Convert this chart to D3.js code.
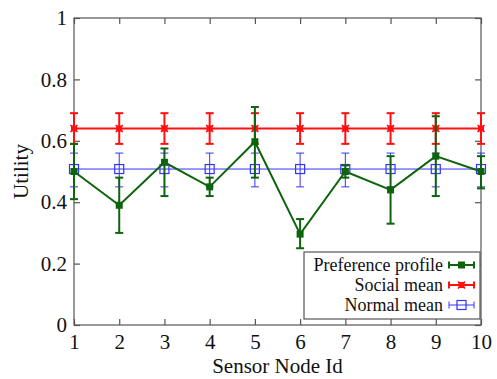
<!DOCTYPE html>
<html>
<head>
<meta charset="utf-8">
<script src="https://cdn.jsdelivr.net/npm/d3@7"></script>
<style>
  body { margin: 0; background: #fff; }
  svg text { font-family: "Liberation Serif", "DejaVu Serif", serif; fill: #111; }
</style>
</head>
<body>
<div id="chart"></div>
<script>
// node ids on the x axis
const nodes = [1, 2, 3, 4, 5, 6, 7, 8, 9, 10];

// preference profile: mean, lower and upper bound
const prefMean = [0.50, 0.39, 0.53, 0.45, 0.597, 0.296, 0.50, 0.44, 0.55, 0.50];
const prefLow  = [0.41, 0.30, 0.42, 0.42, 0.48, 0.25, 0.48, 0.33, 0.42, 0.445];
const prefHigh = [0.59, 0.48, 0.575, 0.48, 0.71, 0.345, 0.52, 0.55, 0.68, 0.55];

// social mean
const socialMean = [0.64, 0.64, 0.64, 0.64, 0.64, 0.64, 0.64, 0.64, 0.64, 0.64];
const socialLow  = [0.59, 0.59, 0.59, 0.59, 0.59, 0.59, 0.59, 0.59, 0.59, 0.59];
const socialHigh = [0.69, 0.69, 0.69, 0.69, 0.69, 0.69, 0.69, 0.69, 0.69, 0.69];

// normal mean
const normalMean = [0.508, 0.508, 0.508, 0.508, 0.508, 0.508, 0.508, 0.508, 0.508, 0.508];
const normalLow  = [0.45, 0.45, 0.45, 0.45, 0.45, 0.45, 0.45, 0.45, 0.45, 0.45];
const normalHigh = [0.56, 0.56, 0.56, 0.56, 0.56, 0.56, 0.56, 0.56, 0.56, 0.56];

const yTicks = [0, 0.2, 0.4, 0.6, 0.8, 1];
const yTickLabels = ['0', '0.2', '0.4', '0.6', '0.8', '1'];

const width = 497, height = 379;
const margin = { top: 18, right: 16, bottom: 54, left: 74 };

const svg = d3.select('#chart').append('svg')
  .attr('width', width)
  .attr('height', height);

const x = d3.scaleLinear().domain([1, 10]).range([margin.left, width - margin.right]);
const y = d3.scaleLinear().domain([0, 1]).range([height - margin.bottom, margin.top]);

const axisColor = '#555';
const tickLen = 6;

// frame
svg.append('rect')
  .attr('x', x(1)).attr('y', y(1))
  .attr('width', x(10) - x(1)).attr('height', y(0) - y(1))
  .attr('fill', 'none').attr('stroke', axisColor).attr('stroke-width', 1.2);

// inward ticks on all four sides
const axes = [
  d3.axisBottom(x).tickValues(nodes).tickSize(-tickLen).tickPadding(9),
  d3.axisTop(x).tickValues(nodes).tickSize(-tickLen).tickFormat(''),
  d3.axisLeft(y).tickValues(yTicks).tickSize(-tickLen).tickPadding(7)
    .tickFormat((d, i) => yTickLabels[i]),
  d3.axisRight(y).tickValues(yTicks).tickSize(-tickLen).tickFormat('')
];
const pos = [
  `translate(0,${y(0)})`, `translate(0,${y(1)})`,
  `translate(${x(1)},0)`, `translate(${x(10)},0)`
];
axes.forEach((a, i) => {
  const g = svg.append('g').attr('transform', pos[i]).call(a);
  g.select('.domain').remove();
  g.selectAll('line').attr('stroke', axisColor).attr('stroke-width', 1.2);
  g.selectAll('text').style('font-size', '21px').attr('fill', '#111');
});

// axis labels
svg.append('text')
  .attr('x', (x(1) + x(10)) / 2).attr('y', 373)
  .attr('text-anchor', 'middle')
  .style('font-size', '21px')
  .text('Sensor Node Id');

svg.append('text')
  .attr('transform', `translate(28,${(y(0) + y(1)) / 2}) rotate(-90)`)
  .attr('text-anchor', 'middle')
  .style('font-size', '21px')
  .text('Utility');

const series = [
  { name: 'Preference profile', color: '#0d640d', mean: prefMean, low: prefLow, high: prefHigh, lw: 2, marker: 'fill' },
  { name: 'Social mean', color: '#ff1010', mean: socialMean, low: socialLow, high: socialHigh, lw: 2, marker: 'cross' },
  { name: 'Normal mean', color: '#3333ff', mean: normalMean, low: normalLow, high: normalHigh, lw: 1, marker: 'open' }
];

const drawOrder = [series[1], series[2], series[0]];
const line = d3.line().x((d, i) => x(nodes[i])).y(d => y(d));

function drawMarker(g, cx, cy, s) {
  if (s.marker === 'fill') {
    g.append('rect').attr('x', cx - 3.5).attr('y', cy - 3.5).attr('width', 7).attr('height', 7)
      .attr('fill', s.color);
  } else if (s.marker === 'cross') {
    g.append('rect').attr('x', cx - 3).attr('y', cy - 3).attr('width', 6).attr('height', 6)
      .attr('fill', s.color);
    g.append('path').attr('d', `M${cx - 3.5},${cy - 3.5}L${cx + 3.5},${cy + 3.5}M${cx - 3.5},${cy + 3.5}L${cx + 3.5},${cy - 3.5}`)
      .attr('stroke', s.color).attr('stroke-width', 1.5);
  } else {
    g.append('rect').attr('x', cx - 4.5).attr('y', cy - 4.5).attr('width', 9).attr('height', 9)
      .attr('fill', 'none').attr('stroke', s.color).attr('stroke-width', 1.2);
  }
}

drawOrder.forEach(s => {
  const g = svg.append('g');
  g.append('path').datum(s.mean).attr('d', line)
    .attr('fill', 'none').attr('stroke', s.color).attr('stroke-width', s.lw);
  nodes.forEach((n, i) => {
    const cx = x(n);
    g.append('line').attr('x1', cx).attr('x2', cx).attr('y1', y(s.low[i])).attr('y2', y(s.high[i]))
      .attr('stroke', s.color).attr('stroke-width', s.lw);
    [s.low[i], s.high[i]].forEach(v => {
      g.append('line').attr('x1', cx - 4).attr('x2', cx + 4).attr('y1', y(v)).attr('y2', y(v))
        .attr('stroke', s.color).attr('stroke-width', s.lw);
    });
    drawMarker(g, cx, y(s.mean[i]), s);
  });
});

// legend
const lg = svg.append('g');
lg.append('rect').attr('x', 304).attr('y', 252).attr('width', 176).attr('height', 67)
  .attr('fill', '#fff').attr('stroke', axisColor).attr('stroke-width', 1.2);
series.forEach((s, i) => {
  const ly = 265 + i * 20;
  lg.append('text').attr('x', 443).attr('y', ly + 6).attr('text-anchor', 'end')
    .style('font-size', '18px').text(s.name);
  lg.append('line').attr('x1', 449).attr('x2', 474).attr('y1', ly).attr('y2', ly)
    .attr('stroke', s.color).attr('stroke-width', s.lw);
  [449, 474].forEach(xx => {
    lg.append('line').attr('x1', xx).attr('x2', xx).attr('y1', ly - 3.5).attr('y2', ly + 3.5)
      .attr('stroke', s.color).attr('stroke-width', s.lw);
  });
  drawMarker(lg, 461.5, ly, s);
});
</script>
</body>
</html>
